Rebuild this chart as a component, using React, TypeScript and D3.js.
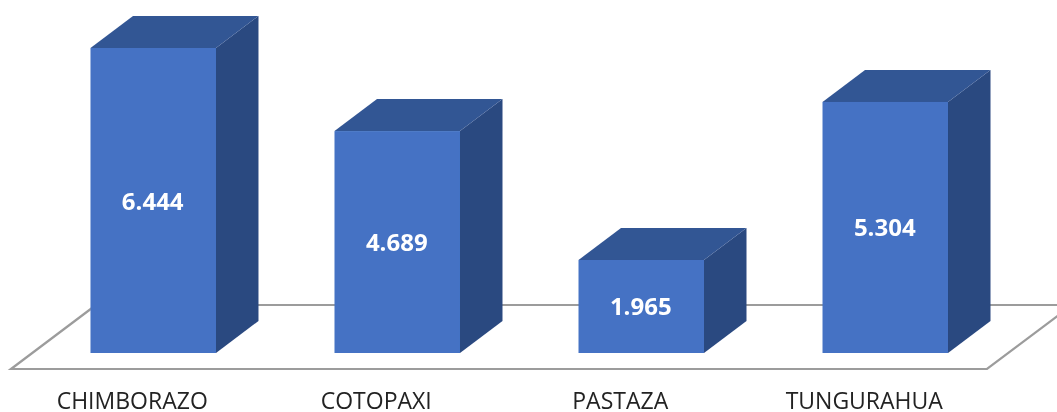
import React from "react";
import * as d3 from "d3";

const categories = ["CHIMBORAZO", "COTOPAXI", "PASTAZA", "TUNGURAHUA"];
const values = [6444, 4689, 1965, 5304];
const valueLabels = ["6.444", "4.689", "1.965", "5.304"];

const W = 1057;
const H = 412;
const baseY = 353;
const depthX = 42.5;
const depthY = 32;

const x = d3.scaleBand<string>().domain(categories).range([31.25, 1007.25]).paddingInner(0.4857).paddingOuter(0.2428);
const y = d3.scaleLinear().domain([0, 6444]).range([baseY, 48]);
const line = d3.line<[number, number]>();

const floorFront = 369;
const floorBack = 305;
const floorBackLine: [number, number][] = [[1070, floorBack], [96, floorBack]];
const floorOutline: [number, number][] = [
  [96, floorBack],
  [11, floorFront],
  [987, floorFront],
  [1070, 306.5],
];

export default function App() {
  const bw = x.bandwidth();
  return (
    <svg width={W} height={H} viewBox={`0 0 ${W} ${H}`} style={{ position: "absolute", left: 0, top: 0, background: "#fff" }}>
      <defs>
        <filter id="soft" x="0" y="0" width="100%" height="100%" filterUnits="userSpaceOnUse">
          <feGaussianBlur stdDeviation="0.45" />
        </filter>
      </defs>
      <g filter="url(#soft)">
        <path d={line(floorBackLine) ?? ""} fill="none" stroke="#9c9c9c" strokeWidth={2.2} />
        <path d={line(floorOutline) ?? ""} fill="none" stroke="#9c9c9c" strokeWidth={2.2} />
        {categories.map((c, i) => {
          const x0 = x(c) ?? 0;
          const x1 = x0 + bw;
          const top = y(values[i]);
          const side: [number, number][] = [[x1, top], [x1 + depthX, top - depthY], [x1 + depthX, baseY - depthY], [x1, baseY]];
          const lid: [number, number][] = [[x0, top], [x0 + depthX, top - depthY], [x1 + depthX, top - depthY], [x1, top]];
          return (
            <g key={c}>
              <path d={(line(side) ?? "") + "Z"} fill="#2a4880" />
              <path d={(line(lid) ?? "") + "Z"} fill="#335694" />
              <rect x={x0} y={top} width={bw} height={baseY - top} fill="#4472c4" />
              <text x={x0 + bw / 2 - 0.5} y={(top + baseY) / 2 + 9} textAnchor="middle" fill="#fff" fontFamily="'Open Sans', sans-serif" fontWeight={700} fontSize={24}>
                {valueLabels[i]}
              </text>
              <text x={x0 + bw / 2 - 21} y={409} textAnchor="middle" fill="#222" fontFamily="'Open Sans', sans-serif" fontSize={23}>
                {c}
              </text>
            </g>
          );
        })}
      </g>
    </svg>
  );
}
